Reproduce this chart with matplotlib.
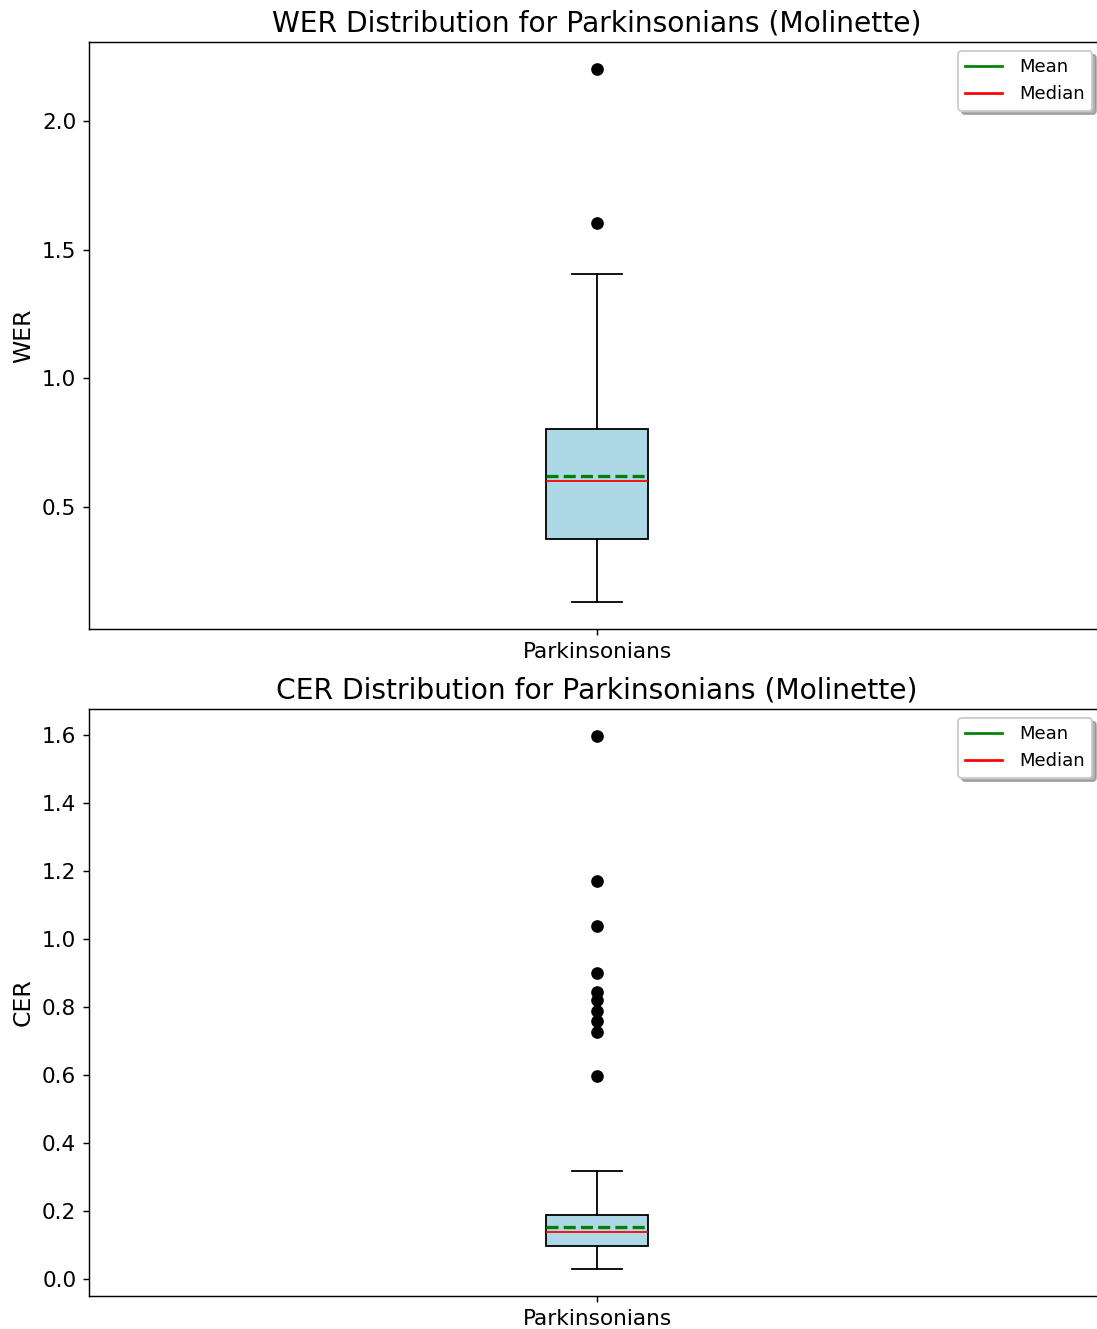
import matplotlib
matplotlib.use("Agg")
import matplotlib.pyplot as plt
from matplotlib.lines import Line2D

# box statistics
group = "Parkinsonians"

wer_q1, wer_med, wer_q3 = 0.378, 0.601, 0.803
wer_whislo, wer_whishi = 0.131, 1.405
wer_mean = 0.620
wer_fliers = [1.604, 2.202]

cer_q1, cer_med, cer_q3 = 0.097, 0.138, 0.189
cer_whislo, cer_whishi = 0.029, 0.318
cer_mean = 0.153
cer_fliers = [0.598, 0.725, 0.760, 0.787, 0.819, 0.843, 0.899, 1.037, 1.170, 1.597]

panels = [
    ("WER", wer_q1, wer_med, wer_q3, wer_whislo, wer_whishi, wer_mean, wer_fliers),
    ("CER", cer_q1, cer_med, cer_q3, cer_whislo, cer_whishi, cer_mean, cer_fliers),
]

W, H = 1097, 1329
fig, axes = plt.subplots(2, 1, figsize=(W / 130, H / 130), dpi=130)

# axes boxes in pixels: (top, bottom)
boxes = [(42, 629), (709, 1296)]
left_px, right_px = 89, 1105

for ax, (top, bot) in zip(axes, boxes):
    ax.set_position([left_px / W, 1 - bot / H, (right_px - left_px) / W, (bot - top) / H])

for ax, (name, q1, med, q3, lo, hi, mean, fliers) in zip(axes, panels):
    stats = [{"label": group, "q1": q1, "med": med, "q3": q3,
              "whislo": lo, "whishi": hi, "mean": mean, "fliers": fliers}]
    ax.bxp(stats, widths=0.1, patch_artist=True, showmeans=True, meanline=True,
           boxprops=dict(facecolor="lightblue", edgecolor="black"),
           medianprops=dict(color="red", linewidth=1.0),
           meanprops=dict(color="green", linestyle="--", linewidth=1.8),
           flierprops=dict(marker="o", markerfacecolor="black",
                           markeredgecolor="black", markersize=6))
    ax.set_title(f"{name} Distribution for Parkinsonians (Molinette)", fontsize=15.6)
    ax.set_ylabel(name, fontsize=13)
    ax.tick_params(axis="both", labelsize=12)
    handles = [Line2D([0], [0], color="green", label="Mean"),
               Line2D([0], [0], color="red", label="Median")]
    ax.legend(handles=handles, loc="upper right", bbox_to_anchor=(0.9965, 1.0),
              shadow={"color": "gray", "alpha": 0.6}, fontsize=10, handletextpad=1.0)

fig.savefig("out.png", dpi=130)
